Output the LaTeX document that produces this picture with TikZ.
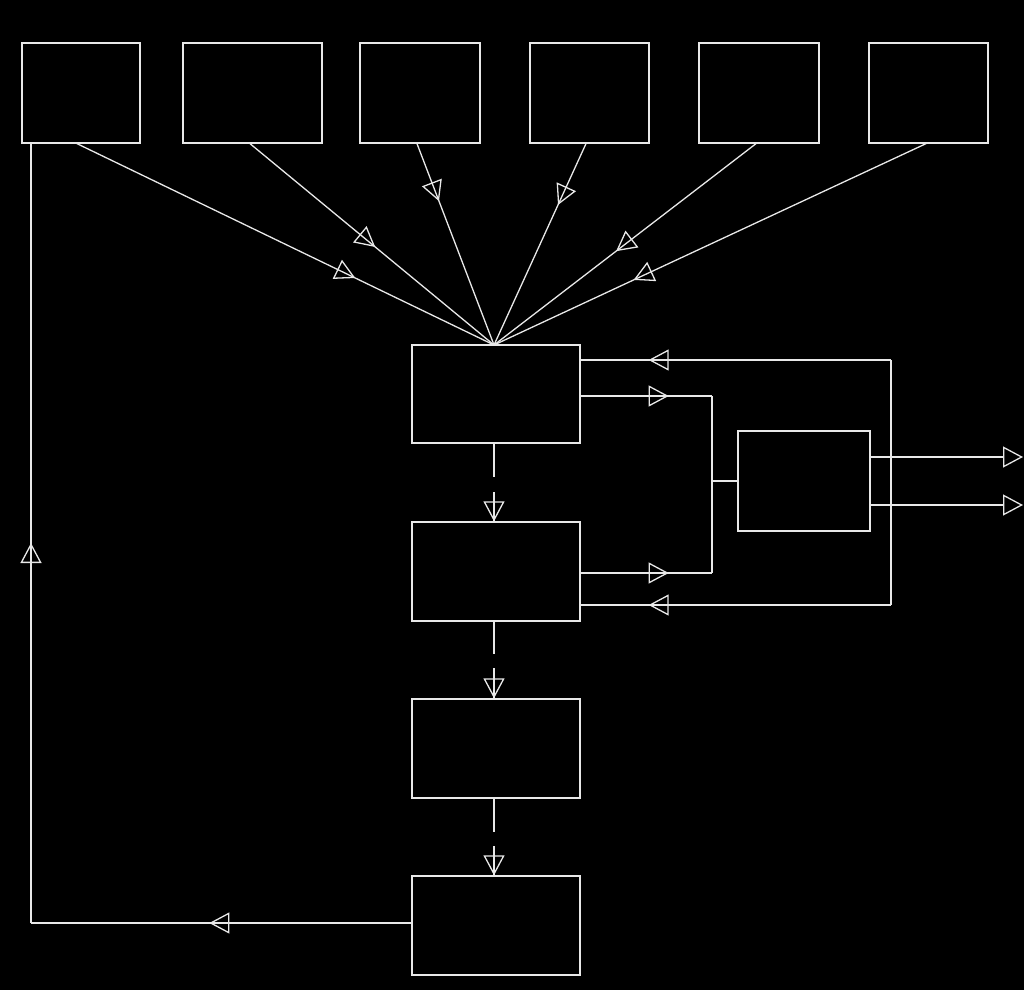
\documentclass[tikz,border=0pt]{standalone}
\usetikzlibrary{arrows.meta,decorations.markings}
\definecolor{ln}{RGB}{232,232,232}
\tikzset{
  Tri/.tip={Triangle[open,length=20pt,width=21pt,line width=1.3pt]},
  box/.style={draw=ln,line width=1.3pt,inner sep=0pt,rectangle},
  wire/.style={draw=ln,line width=1.3pt},
  midarr/.style={postaction={decorate,decoration={markings,mark=at position #1 with {\arrow[ln]{Tri}}}}},
  endarr/.style={-{Tri}}
}
\begin{document}
\begin{tikzpicture}[x=1pt,y=-1pt]
\fill[black] (0,0) rectangle (1024,990);
\useasboundingbox (0,0) rectangle (1024,990);
% top boxes
\node[box,minimum width=118pt,minimum height=100pt] (t1) at (81,93) {};
\node[box,minimum width=139pt,minimum height=100pt] (t2) at (252.5,93) {};
\node[box,minimum width=120pt,minimum height=100pt] (t3) at (420,93) {};
\node[box,minimum width=119pt,minimum height=100pt] (t4) at (589.5,93) {};
\node[box,minimum width=120pt,minimum height=100pt] (t5) at (759,93) {};
\node[box,minimum width=119pt,minimum height=100pt] (t6) at (928.5,93) {};
% column boxes
\node[box,minimum width=168pt,minimum height=98pt] (A) at (496,394) {};
\node[box,minimum width=168pt,minimum height=99pt] (B) at (496,571.5) {};
\node[box,minimum width=168pt,minimum height=99pt] (C) at (496,748.5) {};
\node[box,minimum width=168pt,minimum height=99pt] (D) at (496,925.5) {};
\node[box,minimum width=132pt,minimum height=100pt] (E) at (804,481) {};
% coordinates
\coordinate (hub) at (494,345);
\coordinate (j1) at (712,396);
\coordinate (j2) at (712,573);
\coordinate (r1) at (891,360);
\coordinate (r2) at (891,605);
\coordinate (o1) at (1023,457);
\coordinate (o2) at (1023,505);
\coordinate (L1) at (31,923);
\coordinate (ab) at (494,477);
\coordinate (ab2) at (494,492);
\coordinate (bc) at (494,654);
\coordinate (bc2) at (494,668);
\coordinate (cd) at (494,832);
\coordinate (cd2) at (494,846);
% fan-in
\draw[wire,midarr=-154pt] ([xshift=-4pt]t1.south) -- (hub);
\draw[wire,midarr=-154pt] ([xshift=-2.5pt]t2.south) -- (hub);
\draw[wire,midarr=-154pt] ([xshift=-3pt]t3.south) -- (hub);
\draw[wire,midarr=-154pt] ([xshift=-3.5pt]t4.south) -- (hub);
\draw[wire,midarr=-154pt] ([xshift=-3pt]t5.south) -- (hub);
\draw[wire,midarr=-154pt] ([xshift=-2.5pt]t6.south) -- (hub);
% column
\draw[wire] (A.south -| ab) -- (ab);
\draw[wire,midarr=-0.01pt] (ab2) -- (B.north -| ab2);
\draw[wire] (B.south -| bc) -- (bc);
\draw[wire,midarr=-0.01pt] (bc2) -- (C.north -| bc2);
\draw[wire] (C.south -| cd) -- (cd);
\draw[wire,midarr=-0.01pt] (cd2) -- (D.north -| cd2);
% right loop
\draw[wire] (r1) -- (r2);
\draw[wire,midarr=-68pt] (r1) -- (r1 -| A.east);
\draw[wire,midarr=88pt] (j1 -| A.east) -- (j1);
\draw[wire] (j1) -- (j2);
\draw[wire,midarr=88pt] (j2 -| B.east) -- (j2);
\draw[wire,midarr=-68pt] (r2) -- (r2 -| B.east);
\draw[wire] (j1 |- E.west) -- (E.west);
\draw[wire,endarr] (o1 -| E.east) -- (o1);
\draw[wire,endarr] (o2 -| E.east) -- (o2);
% feedback
\draw[wire,midarr=202pt] (L1 -| D.west) -- (L1);
\draw[wire,midarr=380pt] (L1) -- (L1 |- t1.south);
\end{tikzpicture}
\end{document}
